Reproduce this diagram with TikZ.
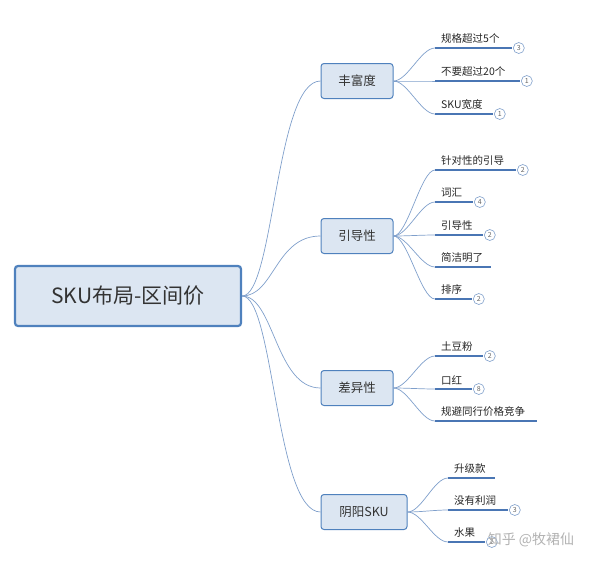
\documentclass[tikz,border=0pt]{standalone}
\usepackage{fontspec}
\setmainfont{Noto Sans CJK SC}
\usetikzlibrary{positioning,calc}
\definecolor{boxfill}{HTML}{DCE6F2}
\definecolor{boxline}{HTML}{4F81BD}
\definecolor{linkcol}{HTML}{7F9FCB}
\definecolor{ulcol}{HTML}{4A76B4}
\tikzset{
	rootbox/.style={draw=boxline, line width=2.2pt, fill=boxfill, rounded corners=3pt, minimum width=226pt, minimum height=60pt, font=\fontsize{21}{24}\selectfont, text=black!80},
	topicbox/.style={draw=boxline, line width=1pt, fill=boxfill, rounded corners=3pt, minimum height=35pt, inner xsep=9pt, font=\fontsize{12.5}{14}\selectfont, text=black!80},
	leaf/.style={anchor=south west, inner xsep=6pt, inner ysep=4pt, font=\fontsize{10.5}{12}\selectfont, text=black!85},
	uline/.style={draw=ulcol, line width=2pt},
	link/.style={draw=linkcol, line width=0.7pt},
	badge/.style={circle, draw=linkcol, fill=white, line width=0.6pt, inner sep=0pt, minimum size=11pt, font=\fontsize{7}{8}\selectfont, text=black!60},
}
% leaf underline: node, hub, length
\newcommand{\leafline}[3]{\coordinate (#1e) at ($(#1.south west)+(#3,0)$); \draw[uline] (#1.south west) -- (#1e); \draw[link] (#2) .. controls +(14,0) and +(-14,0) .. (#1.south west);}
\begin{document}
\begin{tikzpicture}[x=1pt, y=-1pt]
	\useasboundingbox (0,0) rectangle (600,563);
	\node (root) [rootbox] at (128,296) {SKU布局-区间价};
	\node (rich) [topicbox, minimum width=72pt] at (357,81) {丰富度};
	\node (guide) [topicbox, minimum width=72pt] at (357,236) {引导性};
	\node (diff) [topicbox, minimum width=72pt] at (357,388) {差异性};
	\node (yinyang) [topicbox, minimum width=86pt] at (364,512) {阴阳SKU};
	% root to topics
	\foreach \t in {rich,guide,diff,yinyang}
		\draw[link] (root.east) .. controls +(32,0) and +(-45,0) .. (\t.west);
	% hubs
	\coordinate (hrich) at (rich.east);
	\coordinate (hguide) at (guide.east);
	\coordinate (hdiff) at (diff.east);
	\coordinate (hyin) at (yinyang.east);
	% 丰富度
	\node (r1) [leaf] at (435,48) {规格超过5个};
	\node (r2) [leaf] at (435,81) {不要超过20个};
	\node (r3) [leaf] at (435,114) {SKU宽度};
	\leafline{r1}{hrich}{77} \leafline{r2}{hrich}{85} \leafline{r3}{hrich}{58}
	\node [badge, right=1pt of r1e] {3};
	\node [badge, right=1pt of r2e] {1};
	\node [badge, right=1pt of r3e] {1};
	% 引导性
	\node (g1) [leaf] at (435,170) {针对性的引导};
	\node (g2) [leaf] at (435,202) {词汇};
	\node (g3) [leaf] at (435,235) {引导性};
	\node (g4) [leaf] at (435,267) {简洁明了};
	\node (g5) [leaf] at (435,299) {排序};
	\leafline{g1}{hguide}{81} \leafline{g2}{hguide}{38} \leafline{g3}{hguide}{48} \leafline{g4}{hguide}{56} \leafline{g5}{hguide}{37}
	\node [badge, right=1pt of g1e] {2};
	\node [badge, right=1pt of g2e] {4};
	\node [badge, right=1pt of g3e] {2};
	\node [badge, right=1pt of g5e] {2};
	% 差异性
	\node (d1) [leaf] at (435,356) {土豆粉};
	\node (d2) [leaf] at (435,389) {口红};
	\node (d3) [leaf] at (435,421) {规避同行价格竞争};
	\leafline{d1}{hdiff}{48} \leafline{d2}{hdiff}{37} \leafline{d3}{hdiff}{102}
	\node [badge, right=1pt of d1e] {2};
	\node [badge, right=1pt of d2e] {8};
	% 阴阳SKU
	\node (y1) [leaf] at (448,478) {升级款};
	\node (y2) [leaf] at (448,510) {没有利润};
	\node (y3) [leaf] at (448,542) {水果};
	\leafline{y1}{hyin}{47} \leafline{y2}{hyin}{60} \leafline{y3}{hyin}{37}
	\node [badge, right=1pt of y2e] {3};
	\node [badge, right=1pt of y3e] {2};
	% watermark
	\node (mark) [text=black!30, font=\fontsize{14}{16}\selectfont] at (531,540) {知乎 @牧裙仙};
\end{tikzpicture}
\end{document}
